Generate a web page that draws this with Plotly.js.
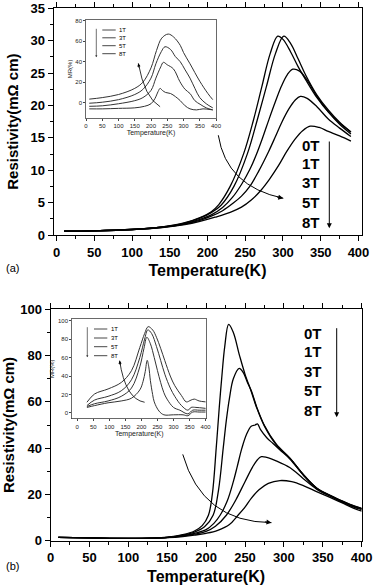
<!DOCTYPE html>
<html>
<head>
<meta charset="utf-8">
<script src="https://cdn.plot.ly/plotly-3.0.1.min.js"></script>
<style>html,body{margin:0;padding:0;background:#fff;}#chart{width:373px;height:586px;}</style>
</head>
<body>
<div id="chart"></div>
<script>
// ---------- Panel (a): resistivity vs temperature ----------
const aT0 = [10, 50, 100, 140, 170, 190, 205, 215, 230, 248, 261, 272, 283, 293, 300, 310, 320, 330, 345, 360, 375, 390];
const aR0 = [0.6, 0.65, 0.85, 1.25, 1.9, 2.7, 3.6, 4.7, 7.5, 12.6, 17.8, 22.9, 28.0, 30.7, 30.2, 28.3, 26.0, 24.0, 21.2, 19.0, 17.3, 15.9];
const aT1 = [10, 50, 100, 140, 170, 190, 205, 218, 235, 253, 266, 278, 290, 301, 310, 320, 330, 345, 360, 375, 390];
const aR1 = [0.6, 0.65, 0.85, 1.25, 1.85, 2.6, 3.45, 4.6, 7.5, 12.6, 17.8, 22.9, 28.0, 30.7, 29.6, 27.2, 24.7, 21.6, 19.3, 17.4, 15.9];
const aT3 = [10, 50, 100, 140, 170, 190, 205, 220, 233, 245, 256, 265, 273, 281, 290, 298, 306, 313, 322, 332, 345, 360, 375, 390];
const aR3 = [0.6, 0.65, 0.85, 1.2, 1.75, 2.4, 3.1, 4.25, 5.8, 7.8, 10.1, 12.5, 15.0, 17.7, 20.6, 23.0, 24.8, 25.6, 25.3, 23.9, 21.4, 19.0, 17.1, 15.6];
const aT5 = [10, 50, 100, 140, 170, 190, 205, 220, 235, 245, 256, 268, 281, 290, 298, 308, 316, 323, 332, 345, 360, 375, 390];
const aR5 = [0.6, 0.65, 0.85, 1.2, 1.7, 2.25, 2.9, 3.75, 5.0, 6.0, 7.5, 9.9, 12.9, 15.2, 17.3, 19.5, 20.8, 21.4, 21.1, 19.8, 17.9, 16.5, 15.2];
const aT8 = [10, 50, 100, 140, 170, 190, 210, 230, 245, 258, 270, 282, 294, 305, 316, 326, 336, 348, 360, 375, 390];
const aR8 = [0.6, 0.65, 0.85, 1.15, 1.6, 2.1, 2.75, 3.5, 4.3, 5.4, 6.8, 8.6, 10.7, 12.9, 14.8, 16.1, 16.8, 16.6, 16.0, 15.3, 14.5];

// ---------- Inset (a): MR vs temperature ----------
const iaT8 = [10, 50, 100, 150, 175, 200, 217, 233, 253, 270, 290, 300, 320, 350, 375, 390];
const iaM8 = [3.5, 5, 8, 14, 20, 34, 51, 63, 67, 64, 56, 49, 38, 21, 9, 3];
const iaT5 = [10, 50, 100, 150, 175, 200, 215, 232, 243, 260, 275, 290, 305, 320, 335, 350, 370, 390];
const iaM5 = [-0.5, 0.5, 3, 8, 13, 24, 38, 50, 54.6, 52, 45, 40, 32, 24, 14, 5, -1, -5];
const iaT3 = [10, 50, 100, 150, 175, 200, 215, 230, 238, 250, 269, 289, 305, 320, 335, 351, 370, 390];
const iaM3 = [-3.5, -3, -1, 2, 5, 12, 24, 35, 39.4, 37, 33, 20.5, 13, 9, 2, -1.5, -5, -7];
const iaT1 = [10, 50, 100, 150, 180, 200, 212, 222, 228, 235, 245, 260, 275, 290, 305, 320, 340, 360, 390];
const iaM1 = [-6, -6, -5.5, -5, -3.5, -1, 4, 11, 14, 12, 10, 9, 6, 2, -3, -6, -7, -6, -7];

// ---------- Panel (b): resistivity vs temperature ----------
const bT0 = [10, 50, 100, 130, 150, 170, 185, 195, 203, 208, 213, 217, 220, 224, 229, 235, 243, 250, 258, 265, 275, 290, 308, 325, 342, 360, 372, 385, 400];
const bR0 = [1.4, 1.2, 1.0, 1.1, 1.5, 2.6, 4.2, 6.5, 11, 20, 40, 58, 70, 84, 93.5, 90, 80, 72, 64.5, 57.5, 49.5, 41.5, 35.5, 28.5, 22.8, 19.5, 17.6, 15.7, 14.0];
const bT1 = [10, 50, 100, 130, 150, 170, 185, 198, 209, 216, 222, 226, 230, 235, 242.6, 248, 253, 258.5, 265, 275, 290, 308, 325, 342, 360, 372, 385, 400];
const bR1 = [1.4, 1.2, 1.0, 1.1, 1.45, 2.4, 3.7, 6, 11, 22, 40, 52, 61.5, 70, 74.5, 72.5, 68.5, 64.5, 57.8, 49.8, 41.8, 35.6, 28.6, 22.8, 19.5, 17.5, 15.6, 13.9];
const bT3 = [10, 50, 100, 130, 150, 170, 185, 200, 210, 218, 227, 235, 240, 246, 252, 258, 263, 266, 270, 278, 286, 295, 308, 325, 342, 360, 372, 385, 400];
const bR3 = [1.4, 1.2, 1.0, 1.1, 1.4, 2.2, 3.2, 4.8, 7.5, 11, 17, 25.5, 32, 40, 46, 49.5, 50, 50.5, 48, 44.5, 42, 39.2, 35.2, 28.3, 22.6, 19.3, 17.3, 15.4, 13.7];
const bT5 = [10, 50, 100, 130, 150, 170, 185, 200, 212, 226, 238, 250, 260, 266, 271, 278, 290, 308, 325, 342, 360, 372, 385, 400];
const bR5 = [1.4, 1.2, 1.0, 1.1, 1.35, 2.0, 2.8, 4.0, 6.2, 11, 17.5, 25.5, 32, 35, 36.3, 36, 34.5, 31.5, 26.8, 22.3, 19.1, 17.1, 15.2, 13.4];
const bT8 = [10, 50, 100, 130, 150, 170, 185, 200, 215, 230, 241, 250, 258, 268, 280, 295, 310, 325, 342, 360, 375, 390, 400];
const bR8 = [1.4, 1.2, 1.0, 1.05, 1.3, 1.8, 2.4, 3.2, 4.5, 7, 11, 14.5, 18.3, 22, 24.8, 26, 25.5, 23.8, 21.2, 18.6, 16.3, 14, 12.8];

// ---------- Inset (b): MR vs temperature ----------
const ibT8 = [30, 54, 96, 137, 169, 195, 210, 221, 235, 247, 260, 273, 290, 304, 325, 340, 355, 365, 380, 400];
const ibM8 = [11.6, 20.6, 26, 33, 45.8, 71, 86, 93.5, 90, 82, 70, 56.7, 40, 29.6, 18.8, 12, 14, 15, 13, 12];
const ibT5 = [30, 54, 96, 137, 169, 195, 210, 220, 232, 247, 260, 273, 290, 304, 325, 345, 355, 370, 400];
const ibM5 = [8, 14, 18, 24, 36, 60, 80, 90, 86, 72, 57, 42, 27, 18, 8, 3, 6, 6, 5];
const ibT3 = [30, 54, 96, 137, 169, 195, 208, 217, 228, 240, 250, 260, 270, 280, 300, 320, 345, 360, 380, 400];
const ibM3 = [7, 10, 13, 18, 27, 50, 70, 82, 75, 60, 46, 33, 22, 15, 6, 3, -1, 3, 3, 3];
const ibT1 = [30, 54, 96, 137, 169, 195, 205, 212, 218, 223, 228, 235, 240, 255, 270, 300, 330, 345, 360, 380, 400];
const ibM1 = [6, 8, 11, 13, 16, 25, 34, 45, 57, 50, 35, 20, 12, 2, -2, -2, -2, -3, 1, 1, 1];

const fieldLabels = ['0T', '1T', '3T', '5T', '8T'];
const insetLabels = ['1T', '3T', '5T', '8T'];
const xTitle = 'Temperature(K)';
const yTitle = 'Resistivity(m\u03A9 cm)';
const insetYTitle = 'MR(%)';

// ---------- helpers ----------
const W = 373, H = 586;
const px = v => v / W;
const py = v => 1 - v / H;
const FONT = 'Liberation Sans, Arial, sans-serif';

function line(x, y, xa, ya, name, w, c) {
  return {x: x, y: y, xaxis: xa, yaxis: ya, name: name, type: 'scatter', mode: 'lines',
    line: {color: c || '#000', width: w || 1.3, shape: 'spline', smoothing: 1},
    showlegend: false, hoverinfo: 'skip'};
}

const traces = [
  line(aT0, aR0, 'x', 'y', '0T'), line(aT1, aR1, 'x', 'y', '1T'), line(aT3, aR3, 'x', 'y', '3T'),
  line(aT5, aR5, 'x', 'y', '5T'), line(aT8, aR8, 'x', 'y', '8T'),
  line(iaT8, iaM8, 'x2', 'y2', '8T', 1, '#333'), line(iaT5, iaM5, 'x2', 'y2', '5T', 1, '#333'),
  line(iaT3, iaM3, 'x2', 'y2', '3T', 1, '#333'), line(iaT1, iaM1, 'x2', 'y2', '1T', 1, '#333'),
  line(bT0, bR0, 'x3', 'y3', '0T'), line(bT1, bR1, 'x3', 'y3', '1T'), line(bT3, bR3, 'x3', 'y3', '3T'),
  line(bT5, bR5, 'x3', 'y3', '5T'), line(bT8, bR8, 'x3', 'y3', '8T'),
  line(ibT8, ibM8, 'x4', 'y4', '8T', 1, '#333'), line(ibT5, ibM5, 'x4', 'y4', '5T', 1, '#333'),
  line(ibT3, ibM3, 'x4', 'y4', '3T', 1, '#333'), line(ibT1, ibM1, 'x4', 'y4', '1T', 1, '#333')
];

function mainX(domain, range, anchor) {
  return {domain: domain, range: range, anchor: anchor, tick0: 0, dtick: 50,
    ticks: 'outside', ticklen: 5, tickwidth: 1, tickcolor: '#000',
    minor: {dtick: 25, ticks: 'outside', ticklen: 3, tickcolor: '#000'},
    showline: true, linecolor: '#000', linewidth: 1, mirror: 'ticks', showgrid: false, zeroline: false,
    tickfont: {family: FONT, size: 13, color: '#000', weight: 'bold'},
    title: {text: xTitle, font: {family: FONT, size: 16, color: '#000', weight: 'bold'}, standoff: 6}};
}
function mainY(domain, range, anchor, dt, mdt) {
  return {domain: domain, range: range, anchor: anchor, tick0: 0, dtick: dt,
    ticks: 'outside', ticklen: 5, tickwidth: 1, tickcolor: '#000',
    minor: {dtick: mdt, ticks: 'outside', ticklen: 3, tickcolor: '#000'},
    showline: true, linecolor: '#000', linewidth: 1, mirror: true, showgrid: false, zeroline: false,
    tickfont: {family: FONT, size: 13, color: '#000', weight: 'bold'},
    title: {text: yTitle, font: {family: FONT, size: 15, color: '#000', weight: 'bold'}, standoff: 8}};
}
function insetX(domain, range, anchor) {
  return {domain: domain, range: range, anchor: anchor, tick0: 0, dtick: 50,
    ticks: 'outside', ticklen: 2, tickcolor: '#444',
    showline: true, linecolor: '#444', linewidth: 0.8, mirror: true, showgrid: false, zeroline: false,
    tickfont: {family: FONT, size: 6, color: '#222'},
    title: {text: xTitle, font: {family: FONT, size: 7, color: '#222'}, standoff: 1}};
}
function insetY(domain, range, anchor) {
  return {domain: domain, range: range, anchor: anchor, tick0: 0, dtick: 20,
    ticks: 'outside', ticklen: 2, tickcolor: '#444',
    showline: true, linecolor: '#444', linewidth: 0.8, mirror: true, showgrid: false, zeroline: false,
    tickfont: {family: FONT, size: 6, color: '#222'},
    title: {text: insetYTitle, font: {family: FONT, size: 6, color: '#222'}, standoff: 2}};
}

const layout = {
  width: W, height: H, margin: {l: 0, r: 0, t: 0, b: 0},
  paper_bgcolor: '#fff', plot_bgcolor: 'rgba(0,0,0,0)', showlegend: false,
  xaxis: mainX([px(53.5), px(361.5)], [-4, 404], 'y'),
  yaxis: mainY([py(235), py(8.3)], [0, 35], 'x', 5, 2.5),
  xaxis2: insetX([px(86), px(216)], [0, 400], 'y2'),
  yaxis2: insetY([py(118.3), py(19.5)], [-15.2, 81.2], 'x2'),
  xaxis3: mainX([px(50.5), px(361.7)], [0, 400], 'y3'),
  yaxis3: mainY([py(540.7), py(309.3)], [0, 100], 'x3', 20, 10),
  xaxis4: insetX([px(72), px(206.5)], [-16.5, 403], 'y4'),
  yaxis4: insetY([py(418.5), py(319)], [-6, 101.8], 'x4'),
  shapes: [], annotations: []
};

// curved arrows (quadratic paths in data coordinates)
function curve(xr, yr, p0, c, p1, w) {
  layout.shapes.push({type: 'path', xref: xr, yref: yr,
    path: `M ${p0[0]},${p0[1]} Q ${c[0]},${c[1]} ${p1[0]},${p1[1]}`,
    line: {color: '#000', width: w}});
}
function head(xr, yr, p, ax, ay, size, w) {
  layout.annotations.push({xref: xr, yref: yr, x: p[0], y: p[1], ax: ax, ay: ay, text: '',
    showarrow: true, arrowhead: 2, arrowsize: size, arrowwidth: w, arrowcolor: '#000'});
}
curve('x', 'y', [214.3, 15.4], [225, 7.5], [300.4, 5.67], 1);
head('x', 'y', [300.4, 5.67], -7.8, -1.6, 1, 1);
curve('x3', 'y3', [170, 37.3], [195, 8], [284, 7.8], 1);
head('x3', 'y3', [284, 7.8], -8, -1, 1, 1);
curve('x2', 'y2', [228, -3.9], [180, 5], [161, 38.4], 0.8);
head('x2', 'y2', [161, 38.4], 1.1, 5.9, 0.8, 0.8);
curve('x4', 'y4', [210, 11.6], [150, 15], [132, 56.7], 0.8);
head('x4', 'y4', [132, 56.7], 0.9, 5.9, 0.8, 0.8);

// vertical field arrows and labels in main panels
function vArrow(xp, y0, y1, size, w) {
  layout.annotations.push({xref: 'paper', yref: 'paper', x: px(xp), y: py(y1), ax: 0, ay: -(y1 - y0),
    text: '', showarrow: true, arrowhead: 2, arrowsize: size, arrowwidth: w, arrowcolor: '#000'});
}
function label(t, xp, yp, size, bold, anchor) {
  layout.annotations.push({xref: 'paper', yref: 'paper', x: px(xp), y: py(yp), text: t, showarrow: false,
    xanchor: anchor || 'center', yanchor: 'middle',
    font: {family: FONT, size: size, color: '#000', weight: bold ? 'bold' : 'normal'}});
}
vArrow(329.3, 140, 228.3, 1, 1);
[145, 163.3, 182.7, 202.7, 222.7].forEach((y, i) => label(fieldLabels[i], 311, y, 15, true));
vArrow(336.7, 326.7, 417.3, 1, 1);
[333.3, 351.7, 371.7, 390, 410].forEach((y, i) => label(fieldLabels[i], 313.3, y, 15, true));

// inset legends
function insetLegend(xl0, xl1, xa, ys, ay0, ay1) {
  ys.forEach((y, i) => {
    layout.shapes.push({type: 'line', xref: 'paper', yref: 'paper', x0: px(xl0), x1: px(xl1), y0: py(y), y1: py(y),
      line: {color: '#333', width: 0.9}});
    label(insetLabels[i], xl1 + 1.5, y, 6, false, 'left');
  });
  layout.annotations.push({xref: 'paper', yref: 'paper', x: px(xa), y: py(ay1), ax: 0, ay: -(ay1 - ay0),
    text: '', showarrow: true, arrowhead: 2, arrowsize: 0.6, arrowwidth: 0.7, arrowcolor: '#333'});
}
insetLegend(102.3, 115.7, 96.3, [30, 37.8, 45.7, 53.7], 27.3, 57.3);
insetLegend(94, 107.3, 87.3, [329, 338, 346.7, 355.7], 325.7, 357.3);

// panel tags
label('(a)', 4, 268, 11, false, 'left');
label('(b)', 4, 566, 11, false, 'left');

Plotly.newPlot('chart', traces, layout, {staticPlot: true, displayModeBar: false});
</script>
</body>
</html>
